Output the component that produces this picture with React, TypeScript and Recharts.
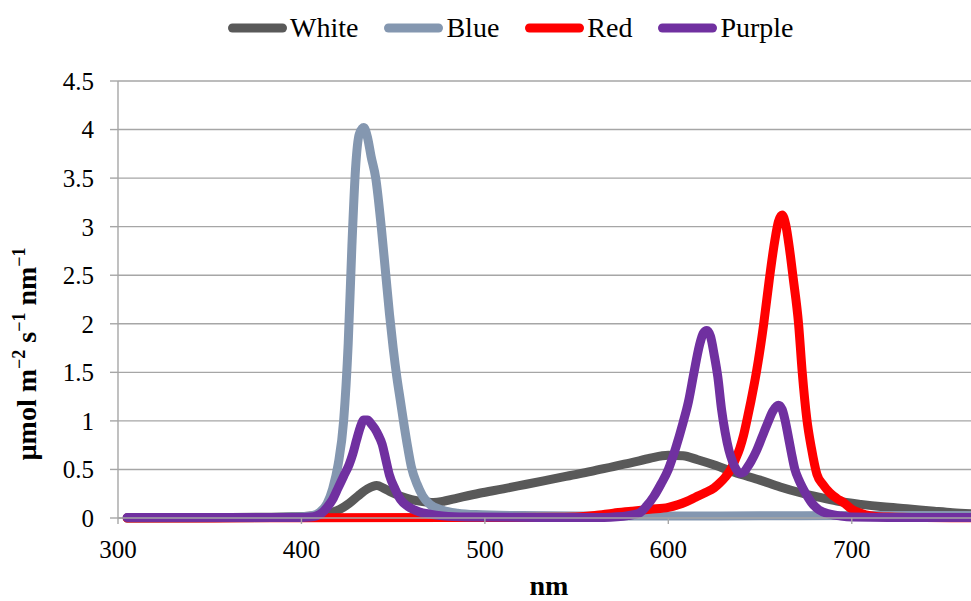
import React from "react";
import { LineChart, Line, XAxis, YAxis, CartesianGrid } from "recharts";

// [nm, µmol m-2 s-1 nm-1]
const white: [number, number][] = [
  [305, 0], [330, 0.002], [360, 0.005], [380, 0.008], [395, 0.012], [405, 0.02], [412, 0.035], [417, 0.06],
  [421, 0.09], [426, 0.15], [431, 0.23], [436, 0.3], [441, 0.335], [445, 0.305], [449, 0.265], [454, 0.225],
  [460, 0.19], [466, 0.17], [472, 0.16], [478, 0.175], [485, 0.205], [497, 0.255], [510, 0.3], [522, 0.345],
  [534, 0.39], [546, 0.435], [558, 0.48], [570, 0.53], [580, 0.57], [590, 0.615], [600, 0.645], [608, 0.64],
  [616, 0.6], [626, 0.54], [636, 0.47], [650, 0.39], [661, 0.32], [672, 0.26], [682, 0.215], [692, 0.175],
  [705, 0.14], [717, 0.115], [730, 0.095], [745, 0.07], [755, 0.055], [765, 0.045],
];

const blue: [number, number][] = [
  [305, 0], [340, 0], [370, 0.003], [390, 0.008], [402, 0.015], [406, 0.025], [410, 0.06], [414, 0.15],
  [417, 0.3], [420, 0.55], [423, 1.0], [425.5, 1.8], [427.5, 2.8], [429.5, 3.6], [431.5, 3.95],
  [434, 4.02], [436, 3.92], [438, 3.72], [440.5, 3.5], [443.5, 3.0], [446, 2.5], [448, 2.1], [450, 1.75],
  [452, 1.45], [454, 1.2], [456, 0.95], [458, 0.72], [460, 0.52], [463, 0.35], [466, 0.23], [470, 0.14],
  [477, 0.08], [485, 0.05], [495, 0.035], [520, 0.025], [560, 0.02], [600, 0.02], [650, 0.022],
  [700, 0.025], [740, 0.025], [765, 0.025],
];

const red: [number, number][] = [
  [305, 0], [400, 0.002], [480, 0.004], [540, 0.008], [552, 0.013], [560, 0.025], [570, 0.05], [580, 0.07],
  [590, 0.09], [600, 0.11], [605, 0.135], [610, 0.17], [615, 0.215], [620, 0.26], [625, 0.31], [628, 0.36],
  [631, 0.42], [634, 0.5], [636.5, 0.6], [639, 0.72], [641, 0.85], [643, 1.02], [645, 1.2], [648, 1.5],
  [652, 2.0], [655, 2.45], [658, 2.85], [660, 3.05], [662, 3.12], [664, 3.02], [666, 2.78], [668, 2.48],
  [671, 2.0], [673, 1.5], [675.5, 1.02], [678, 0.72], [681, 0.45], [684.5, 0.34], [688, 0.26], [692, 0.2],
  [695.5, 0.16], [700, 0.09], [705, 0.05], [710, 0.025], [720, 0.01], [740, 0.004], [765, 0.002],
];

const purple: [number, number][] = [
  [305, 0.005], [350, 0.005], [400, 0.006], [405, 0.01], [408, 0.02], [411, 0.05], [414, 0.11], [417, 0.19],
  [420, 0.31], [423, 0.43], [426, 0.55], [428, 0.66], [430, 0.8], [432, 0.93], [434, 1.01], [436, 1.01],
  [438, 0.97], [440, 0.92], [442, 0.85], [444, 0.76], [446, 0.6], [448, 0.44], [451, 0.3], [454, 0.19],
  [458, 0.12], [464, 0.065], [470, 0.04], [477, 0.022], [490, 0.01], [530, 0.005], [565, 0.006],
  [572, 0.012], [578, 0.025], [584, 0.05], [588, 0.12], [592, 0.22], [596, 0.35], [600, 0.5], [604, 0.72],
  [608, 0.98], [611, 1.2], [614, 1.5], [617, 1.78], [619, 1.9], [621, 1.93], [623, 1.87], [625, 1.68],
  [627, 1.45], [629, 1.12], [631, 0.88], [633, 0.7], [635, 0.58], [637, 0.5], [639, 0.46], [641, 0.47],
  [643, 0.52], [645, 0.58], [648, 0.69], [651, 0.83], [654, 0.97], [657, 1.1], [660, 1.16], [662, 1.12],
  [663.5, 1.02], [665, 0.88], [667, 0.68], [669, 0.5], [671, 0.4], [673, 0.32], [675, 0.25], [678, 0.16],
  [682, 0.085], [688, 0.04], [694, 0.02], [700, 0.01], [720, 0.006], [765, 0.006],
];

const xTicks = [300, 400, 500, 600, 700];
const yTicks = [0, 0.5, 1, 1.5, 2, 2.5, 3, 3.5, 4, 4.5];

const series = [
  { name: "White", color: "#595959", points: white },
  { name: "Blue", color: "#8497b0", points: blue },
  { name: "Red", color: "#ff0000", points: red },
  { name: "Purple", color: "#7030a0", points: purple },
];

const FONT = "Liberation Serif";
const GRID = "#a6a6a6";
const toRows = (pts: [number, number][]) => pts.map(([nm, v]) => ({ nm, v }));

function TopLegend() {
  return (
    <div style={{ position: "absolute", left: 228, top: 0, height: 56, display: "flex", alignItems: "center", fontFamily: FONT, fontSize: 28 }}>
      {series.map(s => (
        <div key={s.name} style={{ display: "flex", alignItems: "center", marginRight: 26 }}>
          <svg width={59} height={12} style={{ display: "block" }}>
            <line x1={4.5} y1={6} x2={54.5} y2={6} stroke={s.color} strokeWidth={9} strokeLinecap="round" />
          </svg>
          <span style={{ marginLeft: 3, color: "#000" }}>{s.name}</span>
        </div>
      ))}
    </div>
  );
}

function YTitle() {
  return (
    <text x={36} y={354} transform="rotate(-90 36 354)" textAnchor="middle" fontFamily={FONT} fontWeight="bold" fontSize={28} fill="#000">
      µmol m<tspan dy={-11} fontSize={18}>−2</tspan>
      <tspan dy={11}>{" s"}</tspan><tspan dy={-11} fontSize={18}>−1</tspan>
      <tspan dy={11}>{" nm"}</tspan><tspan dy={-11} fontSize={18}>−1</tspan>
    </text>
  );
}

function XTitle() {
  return (
    <text x={549} y={595} textAnchor="middle" fontFamily={FONT} fontWeight="bold" fontSize={28} fill="#000">nm</text>
  );
}

export default function App() {
  const tick = { fontFamily: FONT, fontSize: 25, fill: "#000" };
  return (
    <div style={{ position: "absolute", left: 0, top: 0, width: 971, height: 601, background: "#fff", fontFamily: FONT }}>
      <LineChart width={971} height={601} margin={{ top: 81, right: 0, bottom: 0, left: 0 }} style={{ fontFamily: FONT }}>
        <CartesianGrid vertical={false} stroke={GRID} strokeWidth={1.4} />
        <XAxis
          type="number" dataKey="nm" domain={[300, 765]} ticks={xTicks} height={83}
          tick={tick} tickSize={6} tickMargin={16}
          axisLine={{ stroke: GRID, strokeWidth: 1.4 }} tickLine={{ stroke: GRID, strokeWidth: 1.4 }}
          label={{ content: () => <XTitle /> }}
        />
        <YAxis
          type="number" domain={[0, 4.5]} ticks={yTicks} width={118}
          tick={tick} tickSize={8} tickMargin={16}
          axisLine={{ stroke: GRID, strokeWidth: 1.4 }} tickLine={{ stroke: GRID, strokeWidth: 1.4 }}
          label={{ content: () => <YTitle /> }}
        />
        {series.map(s => (
          <Line
            key={s.name} data={toRows(s.points)} dataKey="v" name={s.name} type="monotone"
            stroke={s.color} strokeWidth={9} strokeLinecap="round" strokeLinejoin="round"
            dot={false} activeDot={false} isAnimationActive={false}
          />
        ))}
      </LineChart>
      <TopLegend />
    </div>
  );
}
